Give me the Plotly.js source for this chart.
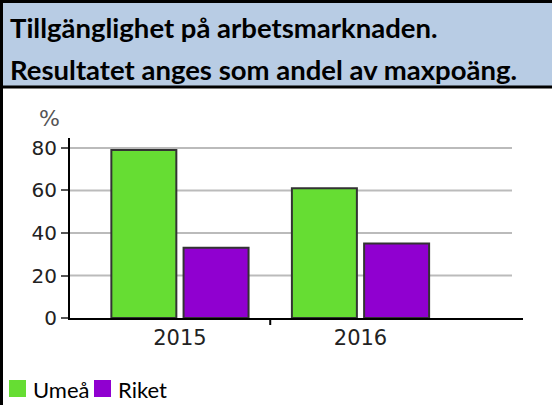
<!DOCTYPE html>
<html>
<head>
<meta charset="utf-8">
<script src="https://cdn.plot.ly/plotly-3.0.1.min.js"></script>
<style>
html,body{margin:0;padding:0;background:#fff;}
#chart{width:552px;height:405px;}
</style>
</head>
<body>
<div id="chart"></div>
<script>
// ---- data ----
const years = ['2015', '2016'];
const umea = [79, 61];
const riket = [33, 35];
const seriesNames = ['Umeå', 'Riket'];
const yTicks = [0, 20, 40, 60, 80];
const titleLines = ['Tillgänglighet på arbetsmarknaden.', 'Resultatet anges som andel av maxpoäng.'];
const unitLabel = '%';

// ---- styles ----
const colors = ['#66dd33', '#9000d0'];
const W = 552, H = 405;
const L = 70, R = 523, T = 138, B = 318;
const px = X => (X - L) / (R - L);
const py = Y => (B - Y) / (B - T);

const traces = [umea, riket].map((vals, i) => ({
  type: 'bar',
  name: seriesNames[i],
  x: years,
  y: vals,
  marker: {color: colors[i], line: {color: '#333', width: 2}},
  hoverinfo: 'skip',
  showlegend: false
}));

const shapes = [];
// gridlines
yTicks.filter(v => v > 0).forEach(v => shapes.push({
  type: 'line', layer: 'below', xref: 'paper', yref: 'y',
  x0: 0, x1: px(512), y0: v, y1: v,
  line: {color: '#bbbbbb', width: 2}
}));
// category boundary tick
shapes.push({type: 'line', xref: 'x', yref: 'paper', x0: 0.5, x1: 0.5,
  y0: 0, y1: -7 / (B - T), line: {color: '#000', width: 2}});
// title box
shapes.push({type: 'rect', xref: 'paper', yref: 'paper',
  x0: px(1.5), x1: px(570), y0: py(1.5), y1: py(87),
  fillcolor: '#b8cce4', line: {color: '#000', width: 3}});
// left frame border
shapes.push({type: 'line', xref: 'paper', yref: 'paper',
  x0: px(1.5), x1: px(1.5), y0: py(0), y1: py(410),
  line: {color: '#000', width: 3}});
// legend squares
const legendX = [9, 94];
legendX.forEach((lx, i) => shapes.push({type: 'rect', xref: 'paper', yref: 'paper',
  x0: px(lx), x1: px(lx + 17), y0: py(380), y1: py(397),
  fillcolor: colors[i], line: {width: 0}}));

const annotations = [];
titleLines.forEach((t, i) => annotations.push({
  text: '<b>' + t + '</b>', xref: 'paper', yref: 'paper',
  x: px(8), y: py(i === 0 ? 27 : 69), xanchor: 'left', yanchor: 'middle',
  showarrow: false, font: {family: 'Lato', size: 27.5, color: '#000'}
}));
annotations.push({text: unitLabel, xref: 'paper', yref: 'paper',
  x: px(49.5), y: py(119), xanchor: 'center', yanchor: 'middle', showarrow: false,
  font: {family: 'DejaVu Sans', size: 22, color: '#555'}});
seriesNames.forEach((n, i) => annotations.push({
  text: n, xref: 'paper', yref: 'paper',
  x: px(legendX[i] + 22), y: py(389), xanchor: 'left', yanchor: 'middle',
  showarrow: false, font: {family: 'Lato', size: 22, color: '#000'}
}));

const layout = {
  width: W, height: H,
  margin: {l: L, r: W - R, t: T, b: H - B, pad: 0},
  paper_bgcolor: '#fff', plot_bgcolor: 'rgba(0,0,0,0)',
  barmode: 'group', bargap: 0.2, bargroupgap: 0.1,
  showlegend: false,
  xaxis: {
    type: 'category', range: [-0.609, 1.9], showgrid: false, zeroline: false,
    showline: true, linecolor: '#000', linewidth: 2, ticks: '',
    tickfont: {family: 'DejaVu Sans', size: 21, color: '#222'}, fixedrange: true
  },
  yaxis: {
    range: [0, 84.7], tickvals: yTicks, showgrid: false, zeroline: false,
    showline: true, linecolor: '#000', linewidth: 2,
    ticks: 'outside', ticklen: 7, tickwidth: 2, tickcolor: '#555',
    tickfont: {family: 'DejaVu Sans', size: 20, color: '#222'}, fixedrange: true
  },
  shapes: shapes,
  annotations: annotations
};

Plotly.newPlot('chart', traces, layout, {staticPlot: true, displayModeBar: false});
</script>
</body>
</html>
